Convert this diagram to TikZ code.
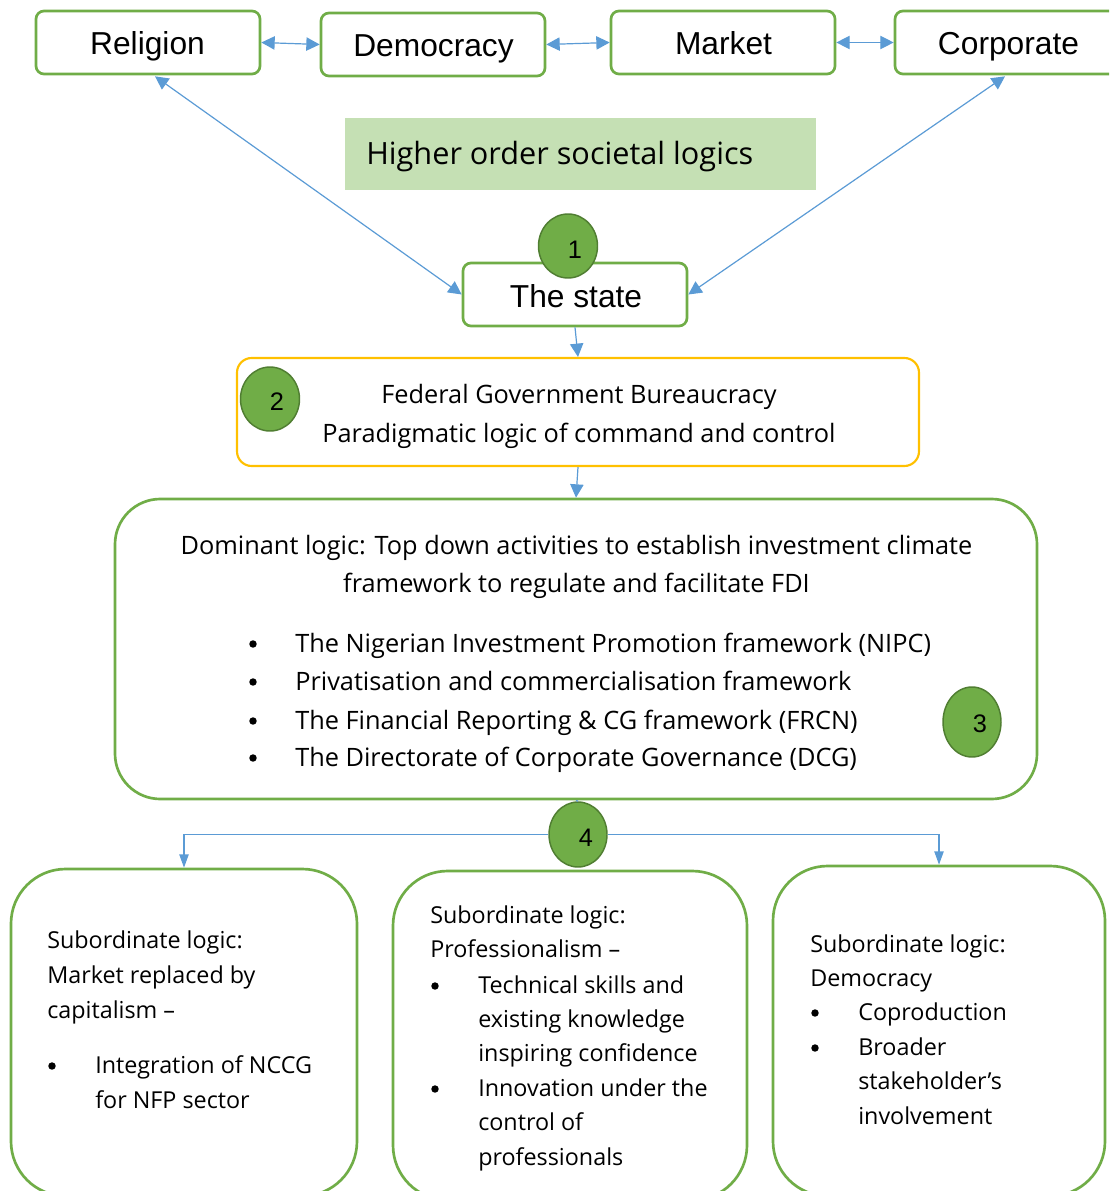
\documentclass[tikz,border=0pt]{standalone}
\usepackage{fontspec}
\setmainfont{Open Sans}
\newfontfamily\arialfont{Liberation Sans}
\usetikzlibrary{shapes.geometric,arrows.meta,calc}
\definecolor{boxgreen}{HTML}{70AD47}
\definecolor{darkgreen}{HTML}{507E32}
\definecolor{palegreen}{HTML}{C5E0B4}
\definecolor{gold}{HTML}{FFC000}
\definecolor{linkblue}{HTML}{5B9BD5}

\begin{document}
\begin{tikzpicture}[x=0.75pt,y=-0.75pt,
  logicbox/.style={draw=boxgreen, line width=2pt, rounded corners=6pt, fill=white,
    inner sep=0pt, minimum width=168pt, minimum height=47.25pt},
  bigbox/.style={draw=boxgreen, line width=2pt, fill=white, inner sep=0pt},
  heading/.style={font=\arialfont\fontsize{23.8}{28}\selectfont, anchor=base, inner sep=0pt},
  body/.style={font=\fontsize{19}{22}\selectfont, inner sep=0pt},
  bodyl/.style={body, anchor=base west},
  bodyc/.style={body, anchor=base},
  small/.style={font=\fontsize{17.5}{21}\selectfont, inner sep=0pt, anchor=base west},
  dot/.style={circle, fill=black, inner sep=0pt, minimum size=5.6pt},
  badge/.style={ellipse, draw=darkgreen, line width=1.1pt, fill=boxgreen, inner sep=0pt},
  badgenum/.style={font=\arialfont\fontsize{19}{22}\selectfont, inner sep=0pt},
  link/.style={draw=linkblue, line width=0.9pt},
  bilink/.style={link, {Triangle[length=10pt,width=10pt]}-{Triangle[length=10pt,width=10pt]}},
  downlink/.style={link, -{Triangle[length=10pt,width=10pt]}},
  branchlink/.style={link, line width=1pt, -{Triangle[length=10pt,width=7pt]}}
]
\useasboundingbox (0,0) rectangle (1109,1191);
\clip (0,0) rectangle (1109,1191);

% higher order societal logics
\node[logicbox] (rel) at (148,42.5) {};
\node[logicbox] (dem) at (433,44.5) {};
\node[logicbox] (mkt) at (723,42.5) {};
\node[logicbox] (corp) at (1007,42.5) {};
\node[heading] (reltxt) at (147.5,55) {Religion};
\node[heading] (demtxt) at (433.5,57) {Democracy};
\node[heading] (mkttxt) at (723.5,55) {Market};
\node[heading] (corptxt) at (1008.5,55) {Corporate};

\node[fill=palegreen, inner sep=0pt, minimum width=353.25pt, minimum height=54pt] (hol) at (580.5,154) {};
\node[font=\fontsize{23}{27}\selectfont, anchor=base west, inner sep=0pt] (holtxt) at (366,165) {Higher order societal logics};

% the state
\node[logicbox] (state) at (575,294.5) {};
\node[heading] (statetxt) at (576,307) {The state};

% federal bureaucracy
\node[draw=gold, line width=1.6pt, rounded corners=11pt, fill=white, inner sep=0pt,
  minimum width=511.5pt, minimum height=81pt] (fed) at (578,412) {};
\node[bodyc] (fed1) at (579,403) {Federal Government Bureaucracy};
\node[bodyc] (fed2) at (579,442) {Paradigmatic logic of command and control};

% dominant logic
\node[bigbox, rounded corners=34pt, minimum width=691.5pt, minimum height=225pt] (dom) at (576,649) {};
\node[bodyc] (dom1) at (576.5,554) {Dominant logic: Top down activities to establish investment climate};
\node[bodyc] (dom2) at (576.5,592) {framework to regulate and facilitate FDI};
\foreach \yy/\txt [count=\i] in {652/{The Nigerian Investment Promotion framework (NIPC)},
    690/{Privatisation and commercialisation framework},
    729/{The Financial Reporting \& CG framework (FRCN)},
    766/{The Directorate of Corporate Governance (DCG)}} {
  \node[dot] (dombul\i) at (253,\yy-8) {};
  \node[bodyl] (domitem\i) at (295,\yy) {\txt};
}

% subordinate logics
\node[bigbox, rounded corners=41pt, minimum width=259.5pt, minimum height=245.25pt] (bl) at (184,1032.5) {};
\node[bigbox, rounded corners=41pt, minimum width=265.5pt, minimum height=246.75pt] (bm) at (570,1035.5) {};
\node[bigbox, rounded corners=41pt, minimum width=249pt, minimum height=247.5pt] (br) at (939,1031) {};

\node[small] (bl1) at (47,948) {Subordinate logic:};
\node[small] (bl2) at (47,983) {Market replaced by};
\node[small] (bl3) at (47,1018) {capitalism –};
\node[dot] (blb1) at (52,1066) {};
\node[small] (bl4) at (95,1073) {Integration of NCCG};
\node[small] (bl5) at (95,1108) {for NFP sector};

\node[small] (bm1) at (430,923) {Subordinate logic:};
\node[small] (bm2) at (430,957) {Professionalism –};
\node[dot] (bmb1) at (435,986) {};
\node[small] (bm3) at (478,993) {Technical skills and};
\node[small] (bm4) at (478,1027) {existing knowledge};
\node[small] (bm5) at (478,1061) {inspiring confidence};
\node[dot] (bmb2) at (435,1089) {};
\node[small] (bm6) at (478,1096) {Innovation under the};
\node[small] (bm7) at (478,1130) {control of};
\node[small] (bm8) at (478,1165) {professionals};

\node[small] (br1) at (810,952) {Subordinate logic:};
\node[small] (br2) at (810,986) {Democracy};
\node[dot] (brb1) at (815,1013) {};
\node[small] (br3) at (858,1020) {Coproduction};
\node[dot] (brb2) at (815,1048) {};
\node[small] (br4) at (858,1055) {Broader};
\node[small] (br5) at (858,1089) {stakeholder’s};
\node[small] (br6) at (858,1124) {involvement};

% connectors
\draw[bilink] (rel.east) -- (dem.west);
\draw[bilink] (dem.east) -- (mkt.west);
\draw[bilink] (mkt.east) -- (corp.west);
\draw[bilink] ($(rel.south)+(7,1)$) -- (state.west);
\draw[bilink] ($(corp.south)+(-2,1)$) -- (state.east);
\draw[downlink] (state.south) -- (fed.north);
\draw[downlink] (fed.south) -- (dom.north);

% numbered badges
\node[badge, minimum width=44.25pt, minimum height=48pt] (c1) at (568,246) {};
\node[badge, minimum width=44.25pt, minimum height=48pt] (c2) at (270,399) {};
\node[badge, minimum width=43.5pt, minimum height=52.5pt] (c3) at (972,722) {};
\node[badge, minimum width=43.5pt, minimum height=48.75pt] (c4) at (578,834.5) {};

\draw[link] (dom.south) -- (c4.north);
\draw[branchlink] (c4.west) -| (bl.north);
\draw[branchlink] (c4.east) -| (br.north);

\node[badgenum] (n1) at (575,250) {1};
\node[badgenum] (n2) at (277,402) {2};
\node[badgenum] (n3) at (980,724) {3};
\node[badgenum] (n4) at (586,838) {4};
\end{tikzpicture}
\end{document}
